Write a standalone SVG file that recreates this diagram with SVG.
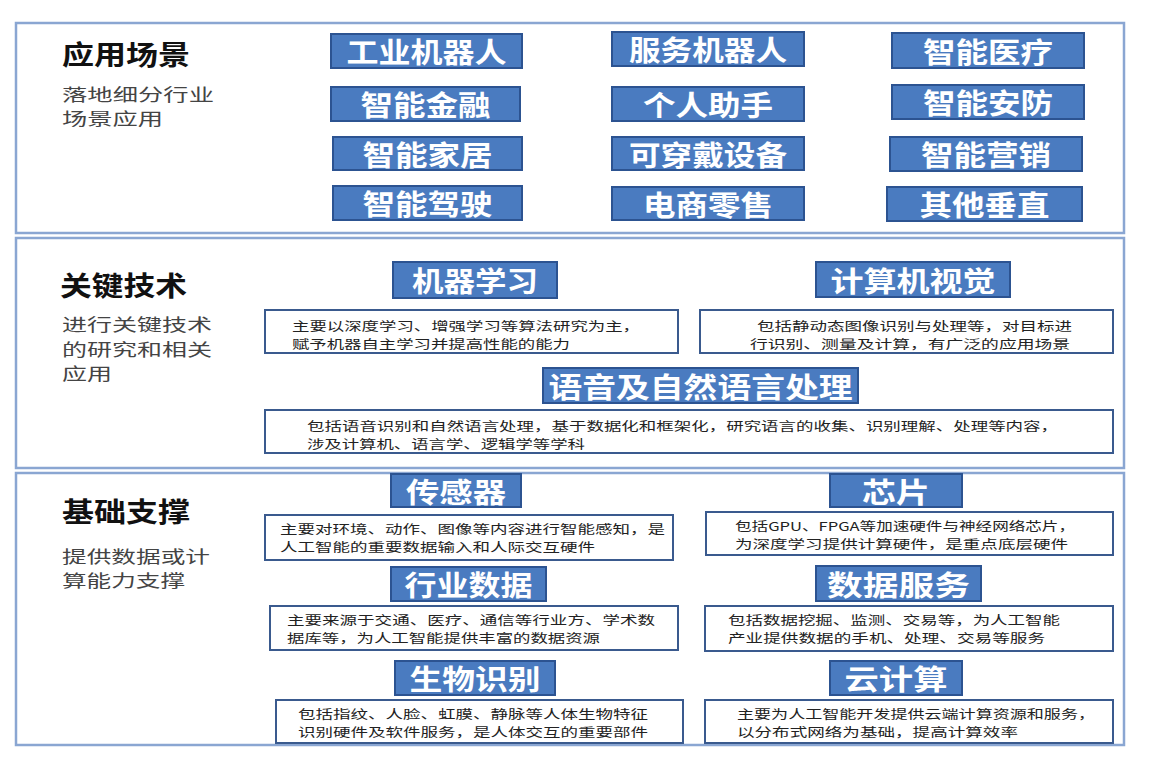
<svg xmlns="http://www.w3.org/2000/svg" width="1164" height="772" viewBox="0 0 1164 772">
<style>
.panel{fill:#fff;stroke:#8aa6d2;stroke-width:2.5}
.btn{fill:#4a7bc0;stroke:#2c5391;stroke-width:2}
.bt{fill:#fff;font-family:"Noto Sans CJK SC","Noto Sans",sans-serif;font-weight:bold;font-size:28px;text-anchor:middle;dominant-baseline:central}
.desc{fill:#fff;stroke:#3a5a8e;stroke-width:2}
.dt{fill:#222;font-family:"Noto Sans CJK SC","Noto Sans",sans-serif;font-size:12.4px;dominant-baseline:central}
.title{fill:#111;font-family:"Noto Sans CJK SC","Noto Sans",sans-serif;font-weight:bold;font-size:27px}
.sub{fill:#444;font-family:"Noto Sans CJK SC","Noto Sans",sans-serif;font-size:16.5px}
</style>
<rect width="1164" height="772" fill="#fff"/>

<g id="panel-app">
<rect class="panel" x="16" y="23" width="1108" height="210"/>
<text class="title" x="62" y="65" textLength="128" lengthAdjust="spacingAndGlyphs">应用场景</text>
<text class="sub" x="62" y="101" textLength="152" lengthAdjust="spacingAndGlyphs">落地细分行业</text>
<text class="sub" x="62" y="125" textLength="101" lengthAdjust="spacingAndGlyphs">场景应用</text>
</g>
<g id="n-gyjqr"><rect class="btn" x="331" y="34" width="191" height="34"/><text class="bt" x="426.5" y="51" textLength="160" lengthAdjust="spacingAndGlyphs">工业机器人</text></g>
<g id="n-znjr"><rect class="btn" x="331" y="87" width="189" height="34"/><text class="bt" x="425.5" y="104" textLength="130" lengthAdjust="spacingAndGlyphs">智能金融</text></g>
<g id="n-znjj"><rect class="btn" x="333" y="137" width="189" height="33"/><text class="bt" x="427.5" y="153.5" textLength="130" lengthAdjust="spacingAndGlyphs">智能家居</text></g>
<g id="n-znjs"><rect class="btn" x="333" y="186" width="189" height="34"/><text class="bt" x="427.5" y="203" textLength="130" lengthAdjust="spacingAndGlyphs">智能驾驶</text></g>
<g id="n-fwjqr"><rect class="btn" x="612" y="32" width="192" height="34"/><text class="bt" x="708" y="49" textLength="158" lengthAdjust="spacingAndGlyphs">服务机器人</text></g>
<g id="n-grzs"><rect class="btn" x="612" y="87" width="192" height="34"/><text class="bt" x="708" y="104" textLength="130" lengthAdjust="spacingAndGlyphs">个人助手</text></g>
<g id="n-kcdsb"><rect class="btn" x="612" y="137" width="192" height="33"/><text class="bt" x="708" y="153.5" textLength="158" lengthAdjust="spacingAndGlyphs">可穿戴设备</text></g>
<g id="n-dsls"><rect class="btn" x="612" y="187" width="192" height="33"/><text class="bt" x="708" y="203.5" textLength="130" lengthAdjust="spacingAndGlyphs">电商零售</text></g>
<g id="n-znyl"><rect class="btn" x="892" y="33" width="192" height="35"/><text class="bt" x="988" y="50.5" textLength="130" lengthAdjust="spacingAndGlyphs">智能医疗</text></g>
<g id="n-znaf"><rect class="btn" x="892" y="85" width="192" height="34"/><text class="bt" x="988" y="102" textLength="130" lengthAdjust="spacingAndGlyphs">智能安防</text></g>
<g id="n-znyx"><rect class="btn" x="890" y="137" width="192" height="34"/><text class="bt" x="986" y="154" textLength="130" lengthAdjust="spacingAndGlyphs">智能营销</text></g>
<g id="n-qtcz"><rect class="btn" x="887" y="187" width="195" height="34"/><text class="bt" x="984.5" y="204" textLength="130" lengthAdjust="spacingAndGlyphs">其他垂直</text></g>

<g id="panel-tech">
<rect class="panel" x="16" y="238" width="1108" height="230"/>
<text class="title" x="60" y="296" textLength="127" lengthAdjust="spacingAndGlyphs">关键技术</text>
<text class="sub" x="62" y="331" textLength="150" lengthAdjust="spacingAndGlyphs">进行关键技术</text>
<text class="sub" x="62" y="356" textLength="150" lengthAdjust="spacingAndGlyphs">的研究和相关</text>
<text class="sub" x="62" y="380" textLength="50" lengthAdjust="spacingAndGlyphs">应用</text>
</g>
<g id="n-jqxx"><rect class="btn" x="393" y="262" width="164" height="36"/><text class="bt" x="475" y="280" textLength="126" lengthAdjust="spacingAndGlyphs">机器学习</text>
<rect class="desc" x="265" y="310" width="413" height="43"/>
<text class="dt" x="292" y="326" textLength="348" lengthAdjust="spacingAndGlyphs">主要以深度学习、增强学习等算法研究为主，</text>
<text class="dt" x="292" y="344" textLength="278" lengthAdjust="spacingAndGlyphs">赋予机器自主学习并提高性能的能力</text></g>
<g id="n-jsjsj"><rect class="btn" x="816" y="262" width="194" height="35"/><text class="bt" x="913" y="279.5" textLength="165" lengthAdjust="spacingAndGlyphs">计算机视觉</text>
<rect class="desc" x="700" y="310" width="413" height="43"/>
<text class="dt" x="757" y="326" textLength="315" lengthAdjust="spacingAndGlyphs">包括静动态图像识别与处理等，对目标进</text>
<text class="dt" x="750" y="344" textLength="320" lengthAdjust="spacingAndGlyphs">行识别、测量及计算，有广泛的应用场景</text></g>
<g id="n-yyzrycl"><rect class="btn" x="543" y="368" width="315" height="35"/><text class="bt" x="700.5" y="385.5" font-size="30" textLength="304" lengthAdjust="spacingAndGlyphs">语音及自然语言处理</text>
<rect class="desc" x="265" y="410" width="848" height="43"/>
<text class="dt" x="307" y="426" textLength="751" lengthAdjust="spacingAndGlyphs">包括语音识别和自然语言处理，基于数据化和框架化，研究语言的收集、识别理解、处理等内容，</text>
<text class="dt" x="307" y="444" textLength="278" lengthAdjust="spacingAndGlyphs">涉及计算机、语言学、逻辑学等学科</text></g>

<g id="panel-base">
<rect class="panel" x="16" y="473" width="1108" height="272"/>
<text class="title" x="62" y="522" textLength="128" lengthAdjust="spacingAndGlyphs">基础支撑</text>
<text class="sub" x="62" y="563" textLength="148" lengthAdjust="spacingAndGlyphs">提供数据或计</text>
<text class="sub" x="62" y="587" textLength="123" lengthAdjust="spacingAndGlyphs">算能力支撑</text>
</g>
<g id="n-cgq"><rect class="btn" x="391" y="474" width="130" height="33"/><text class="bt" x="456" y="490.5" textLength="100" lengthAdjust="spacingAndGlyphs">传感器</text>
<rect class="desc" x="265" y="515" width="408" height="45"/>
<text class="dt" x="280" y="529" textLength="385" lengthAdjust="spacingAndGlyphs">主要对环境、动作、图像等内容进行智能感知，是</text>
<text class="dt" x="280" y="547" textLength="315" lengthAdjust="spacingAndGlyphs">人工智能的重要数据输入和人际交互硬件</text></g>
<g id="n-xp"><rect class="btn" x="830" y="474" width="132" height="33"/><text class="bt" x="896" y="490.5" textLength="68" lengthAdjust="spacingAndGlyphs">芯片</text>
<rect class="desc" x="706" y="512" width="407" height="43"/>
<text class="dt" x="735" y="526" textLength="340" lengthAdjust="spacingAndGlyphs">包括GPU、FPGA等加速硬件与神经网络芯片，</text>
<text class="dt" x="735" y="544" textLength="333" lengthAdjust="spacingAndGlyphs">为深度学习提供计算硬件，是重点底层硬件</text></g>
<g id="n-hysj"><rect class="btn" x="391" y="567" width="155" height="34"/><text class="bt" x="468.5" y="584" textLength="128" lengthAdjust="spacingAndGlyphs">行业数据</text>
<rect class="desc" x="270" y="606" width="408" height="44"/>
<text class="dt" x="287" y="620" textLength="368" lengthAdjust="spacingAndGlyphs">主要来源于交通、医疗、通信等行业方、学术数</text>
<text class="dt" x="287" y="638" textLength="313" lengthAdjust="spacingAndGlyphs">据库等，为人工智能提供丰富的数据资源</text></g>
<g id="n-sjfw"><rect class="btn" x="816" y="566" width="165" height="35"/><text class="bt" x="898.5" y="583.5" textLength="143" lengthAdjust="spacingAndGlyphs">数据服务</text>
<rect class="desc" x="705" y="606" width="408" height="45"/>
<text class="dt" x="728" y="620" textLength="332" lengthAdjust="spacingAndGlyphs">包括数据挖掘、监测、交易等，为人工智能</text>
<text class="dt" x="728" y="638" textLength="317" lengthAdjust="spacingAndGlyphs">产业提供数据的手机、处理、交易等服务</text></g>
<g id="n-swsb"><rect class="btn" x="395" y="661" width="160" height="34"/><text class="bt" x="475" y="678" textLength="131" lengthAdjust="spacingAndGlyphs">生物识别</text>
<rect class="desc" x="276" y="700" width="407" height="43"/>
<text class="dt" x="298" y="714" textLength="350" lengthAdjust="spacingAndGlyphs">包括指纹、人脸、虹膜、静脉等人体生物特征</text>
<text class="dt" x="298" y="732" textLength="350" lengthAdjust="spacingAndGlyphs">识别硬件及软件服务，是人体交互的重要部件</text></g>
<g id="n-yjs"><rect class="btn" x="830" y="661" width="132" height="34"/><text class="bt" x="896" y="678" textLength="103" lengthAdjust="spacingAndGlyphs">云计算</text>
<rect class="desc" x="705" y="700" width="408" height="43"/>
<text class="dt" x="737" y="714" textLength="358" lengthAdjust="spacingAndGlyphs">主要为人工智能开发提供云端计算资源和服务，</text>
<text class="dt" x="737" y="732" textLength="281" lengthAdjust="spacingAndGlyphs">以分布式网络为基础，提高计算效率</text></g>

<g id="connectors"></g>
</svg>
